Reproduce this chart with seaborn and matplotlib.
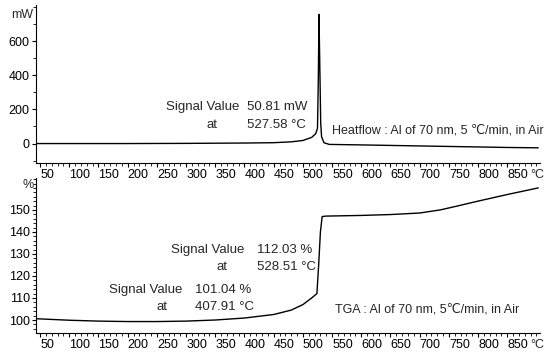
import matplotlib
matplotlib.use("Agg")
import matplotlib.pyplot as plt
import seaborn as sns
import pandas as pd
from matplotlib.ticker import MultipleLocator

# Heat-flow curve (temperature in degC, signal in mW)
hf_temp = [43, 100, 200, 300, 400, 450, 480, 500, 515, 522, 525, 526.5, 527.5, 529, 530.5, 532, 536,
           545, 600, 650, 700, 750, 800, 850, 903]
hf_mw = [0, 0, 0, 1, 3, 5, 10, 18, 36, 58, 90, 400, 757, 450, 120, 40, 5,
         -5, -8, -11, -14, -17, -20, -23, -25]

# TGA curve (temperature in degC, mass in %)
tga_temp = [43, 50, 100, 150, 200, 250, 300, 350, 400, 450, 480, 500, 515, 524, 527, 530, 533,
            540, 600, 650, 700, 735, 760, 800, 850, 903]
tga_pct = [100.6, 100.5, 99.9, 99.5, 99.3, 99.3, 99.5, 100.0, 100.9, 102.5, 104.5, 107.0, 110.0, 112.0,
           125.0, 140.0, 147.0, 147.2, 147.5, 147.9, 148.6, 150.0, 151.5, 154.0, 157.0, 160.0]

x_ticks = [50, 100, 150, 200, 250, 300, 350, 400, 450, 500, 550, 600, 650, 700, 750, 800, 850]
hf_yticks = [0, 200, 400, 600]
tga_yticks = [100, 110, 120, 130, 140, 150]

sns.set_theme(style="ticks")
plt.rcParams['font.family'] = ['Liberation Sans Narrow', 'Liberation Sans', 'DejaVu Sans']
FS = 9
AFS = 9.5

fig = plt.figure(figsize=(5.46, 3.58), dpi=100)
H = 358.0
W = 546.0
left = 36 / W
right = 540 / W
ax1 = fig.add_axes([left, 1 - 163 / H, right - left, (163 - 5) / H])
ax2 = fig.add_axes([left, 1 - 333 / H, right - left, (333 - 178) / H])

df_hf = pd.DataFrame({"T": hf_temp, "v": hf_mw})
df_tga = pd.DataFrame({"T": tga_temp, "v": tga_pct})
sns.lineplot(data=df_hf, x="T", y="v", ax=ax1, color="black", lw=1.0)
sns.lineplot(data=df_tga, x="T", y="v", ax=ax2, color="black", lw=1.0)

for ax in (ax1, ax2):
    ax.set_xlim(43, 906)
    ax.set_xticks(x_ticks)
    ax.set_xticklabels([str(t) for t in x_ticks])
    ax.xaxis.set_minor_locator(MultipleLocator(10))
    for lab in ax.get_xticklabels():
        lab.set_ha('left')
    ax.tick_params(axis='both', which='major', labelsize=FS, length=3, width=0.8, pad=1.5, colors='black')
    ax.tick_params(axis='both', which='minor', length=2, width=0.6, colors='black')
    ax.set_xlabel("")
    ax.set_ylabel("")
    for s in ("top", "right"):
        ax.spines[s].set_visible(False)
    for s in ("left", "bottom"):
        ax.spines[s].set_linewidth(0.8)
        ax.spines[s].set_color("black")
    ax.annotate("°C", xy=(889, 0), xycoords=('data', 'axes fraction'), xytext=(0, -4.5),
                textcoords='offset points', ha='left', va='top', fontsize=FS)

ax1.set_ylim(-114, 812)
ax1.set_yticks(hf_yticks)
ax1.yaxis.set_minor_locator(MultipleLocator(100))
ax1.text(-0.005, 755, "mW", transform=ax1.get_yaxis_transform(), ha='right', va='center', fontsize=FS)

ax2.set_ylim(94.1, 164.5)
ax2.set_yticks(tga_yticks)
ax2.yaxis.set_minor_locator(MultipleLocator(2))
ax2.text(-0.005, 161.4, "%", transform=ax2.get_yaxis_transform(), ha='right', va='center', fontsize=FS)

# Annotations – heat flow
ax1.text(392, 215, "Signal Value", ha='right', va='center', fontsize=AFS)
ax1.text(354, 110, "at", ha='right', va='center', fontsize=AFS)
ax1.text(404, 215, "50.81 mW", ha='left', va='center', fontsize=AFS)
ax1.text(404, 110, "527.58 °C", ha='left', va='center', fontsize=AFS)
ax1.text(550, 75, "Heatflow : Al of 70 nm, 5 \u2103/min, in Air", ha='left', va='center', fontsize=FS)

# Annotations – TGA
ax2.text(400, 131.7, "Signal Value", ha='right', va='center', fontsize=AFS)
ax2.text(371, 124, "at", ha='right', va='center', fontsize=AFS)
ax2.text(421, 131.7, "112.03 %", ha='left', va='center', fontsize=AFS)
ax2.text(421, 124, "528.51 °C", ha='left', va='center', fontsize=AFS)
ax2.text(294, 113.6, "Signal Value", ha='right', va='center', fontsize=AFS)
ax2.text(269, 105.9, "at", ha='right', va='center', fontsize=AFS)
ax2.text(315, 113.6, "101.04 %", ha='left', va='center', fontsize=AFS)
ax2.text(315, 105.9, "407.91 °C", ha='left', va='center', fontsize=AFS)
ax2.text(555, 105, "TGA : Al of 70 nm, 5\u2103/min, in Air", ha='left', va='center', fontsize=FS)

fig.savefig("out.png", dpi=100)
